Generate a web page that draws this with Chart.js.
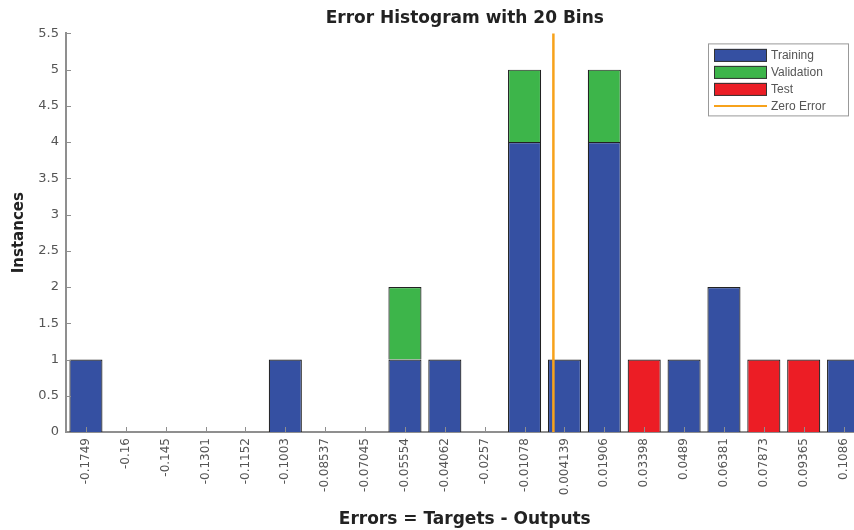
<!DOCTYPE html>
<html lang="en">
<head>
    <meta charset="UTF-8">
    <title>Error Histogram with 20 Bins</title>
    <style>
        body {
            margin: 0;
            padding: 0;
            background: #fff;
            overflow: hidden;
        }

        #wrap {
            width: 854px;
            height: 530px;
            overflow: hidden;
        }

        canvas {
            display: block;
        }
    </style>
</head>
<body>
<div id="wrap">
    <canvas id="error-hist" width="864" height="530"></canvas>
</div>

<script src="https://cdn.jsdelivr.net/npm/chart.js"></script>
<script>
    // bin centres, as printed under the bars
    var binLabels = ['-0.1749', '-0.16', '-0.145', '-0.1301', '-0.1152', '-0.1003', '-0.08537', '-0.07045',
        '-0.05554', '-0.04062', '-0.0257', '-0.01078', '0.004139', '0.01906', '0.03398', '0.0489',
        '0.06381', '0.07873', '0.09365', '0.1086'];
    var trainingCounts = [1, 0, 0, 0, 0, 1, 0, 0, 1, 1, 0, 4, 1, 4, 0, 1, 2, 0, 0, 1];
    var validationCounts = [0, 0, 0, 0, 0, 0, 0, 0, 1, 0, 0, 1, 0, 1, 0, 0, 0, 0, 0, 0];
    var testCounts = [0, 0, 0, 0, 0, 0, 0, 0, 0, 0, 0, 0, 0, 0, 1, 0, 0, 1, 1, 0];
    var zeroError = 0;
    var yTicks = [0, 0.5, 1, 1.5, 2, 2.5, 3, 3.5, 4, 4.5, 5, 5.5];

    var axisGray = '#8f8f8f';
    var labelGray = '#555';
    var zeroColor = '#f7a21b';
    var boldFont = '"DejaVu Sans", Verdana, sans-serif';

    // orange zero line, inward tick marks and the boxed legend
    var histExtras = {
        id: 'histExtras',
        afterDatasetsDraw: function (chart) {
            var ctx = chart.ctx;
            var xs = chart.scales.x;
            var ys = chart.scales.y;
            var area = chart.chartArea;

            // ticks pointing into the plot
            ctx.save();
            ctx.strokeStyle = axisGray;
            ctx.lineWidth = 1;
            yTicks.forEach(function (v) {
                var py = Math.round(ys.getPixelForValue(v)) + 0.5;
                ctx.beginPath();
                ctx.moveTo(area.left, py);
                ctx.lineTo(area.left + 5, py);
                ctx.stroke();
            });
            binLabels.forEach(function (lab, i) {
                var px = Math.round(xs.getPixelForValue(i)) + 0.5;
                ctx.beginPath();
                ctx.moveTo(px, area.bottom);
                ctx.lineTo(px, area.bottom - 5);
                ctx.stroke();
            });
            ctx.restore();

            // zero error line: interpolate between the neighbouring bin centres
            var centres = binLabels.map(parseFloat);
            var zx = null;
            for (var i = 0; i < centres.length - 1; i++) {
                if (centres[i] <= zeroError && zeroError < centres[i + 1]) {
                    var f = (zeroError - centres[i]) / (centres[i + 1] - centres[i]);
                    zx = xs.getPixelForValue(i) + f * (xs.getPixelForValue(i + 1) - xs.getPixelForValue(i));
                }
            }
            if (zx !== null) {
                ctx.save();
                ctx.strokeStyle = zeroColor;
                ctx.lineWidth = 2.5;
                ctx.beginPath();
                ctx.moveTo(zx, area.top);
                ctx.lineTo(zx, area.bottom);
                ctx.stroke();
                ctx.restore();
            }

            // legend box
            var items = chart.data.datasets.map(function (d) {
                return {text: d.label, fill: d.backgroundColor};
            });
            items.push({text: 'Zero Error', line: zeroColor});
            var bx = 708, by = area.top + 10, bw = 140, rowH = 17;
            var bh = items.length * rowH + 4;
            ctx.save();
            ctx.fillStyle = '#fff';
            ctx.fillRect(bx, by, bw, bh);
            ctx.strokeStyle = '#999';
            ctx.lineWidth = 1;
            ctx.strokeRect(bx + 0.5, by + 0.5, bw, bh);
            ctx.font = '12px "Liberation Sans", Arial, sans-serif';
            ctx.textBaseline = 'middle';
            items.forEach(function (it, k) {
                var cy = by + 3 + rowH * k + rowH / 2;
                if (it.fill) {
                    ctx.fillStyle = it.fill;
                    ctx.fillRect(bx + 6, cy - 6, 53, 13);
                    ctx.strokeStyle = '#333';
                    ctx.strokeRect(bx + 6.5, cy - 5.5, 52, 12);
                } else {
                    ctx.strokeStyle = it.line;
                    ctx.lineWidth = 2;
                    ctx.beginPath();
                    ctx.moveTo(bx + 6, cy);
                    ctx.lineTo(bx + 59, cy);
                    ctx.stroke();
                }
                ctx.fillStyle = labelGray;
                ctx.fillText(it.text, bx + 63, cy + 1);
            });
            ctx.restore();
        }
    };

    var ctx = document.getElementById('error-hist').getContext('2d');
    var chart = new Chart(ctx, {
        type: 'bar',
        data: {
            labels: binLabels,
            datasets: [{
                label: 'Training',
                data: trainingCounts,
                backgroundColor: '#3550a2',
                borderColor: '#222',
                borderWidth: 1.2
            }, {
                label: 'Validation',
                data: validationCounts,
                backgroundColor: '#3db54a',
                borderColor: '#222',
                borderWidth: 1.2
            }, {
                label: 'Test',
                data: testCounts,
                backgroundColor: '#ec1d25',
                borderColor: '#222',
                borderWidth: 1.2
            }]
        },
        options: {
            responsive: false,
            animation: false,
            layout: {
                padding: {left: 0, right: 0, top: 0, bottom: 0}
            },
            datasets: {
                bar: {
                    categoryPercentage: 1,
                    barPercentage: 0.83
                }
            },
            plugins: {
                legend: {display: false},
                tooltip: {enabled: false},
                title: {
                    display: true,
                    fullSize: false,
                    text: 'Error Histogram with 20 Bins',
                    color: '#222',
                    font: {family: boldFont, size: 17, weight: 'bold'},
                    padding: {top: 8, bottom: 5}
                }
            },
            scales: {
                x: {
                    stacked: true,
                    grid: {display: false, drawTicks: false},
                    border: {display: true, color: axisGray, width: 2},
                    ticks: {
                        color: labelGray,
                        font: {family: '"DejaVu Sans", sans-serif', size: 12},
                        minRotation: 90,
                        maxRotation: 90,
                        autoSkip: false,
                        padding: 6
                    },
                    title: {
                        display: true,
                        text: 'Errors = Targets - Outputs',
                        color: '#222',
                        font: {family: boldFont, size: 17, weight: 'bold'},
                        padding: {top: 4, bottom: 0}
                    },
                    afterFit: function (scale) {
                        scale.height = 98;
                    }
                },
                y: {
                    stacked: true,
                    min: 0,
                    max: 5.5,
                    grid: {display: false, drawTicks: false},
                    border: {display: true, color: axisGray, width: 2},
                    ticks: {
                        stepSize: 0.5,
                        color: labelGray,
                        font: {family: '"DejaVu Sans", sans-serif', size: 13},
                        padding: 7,
                        callback: function (v) {
                            return String(Math.round(v * 10) / 10);
                        }
                    },
                    title: {
                        display: true,
                        text: 'Instances',
                        color: '#222',
                        font: {family: boldFont, size: 15, weight: 'bold'},
                        padding: {top: 10, bottom: 0}
                    },
                    afterFit: function (scale) {
                        scale.width = 66;
                    }
                }
            }
        },
        plugins: [histExtras]
    });
</script>
</body>
</html>
